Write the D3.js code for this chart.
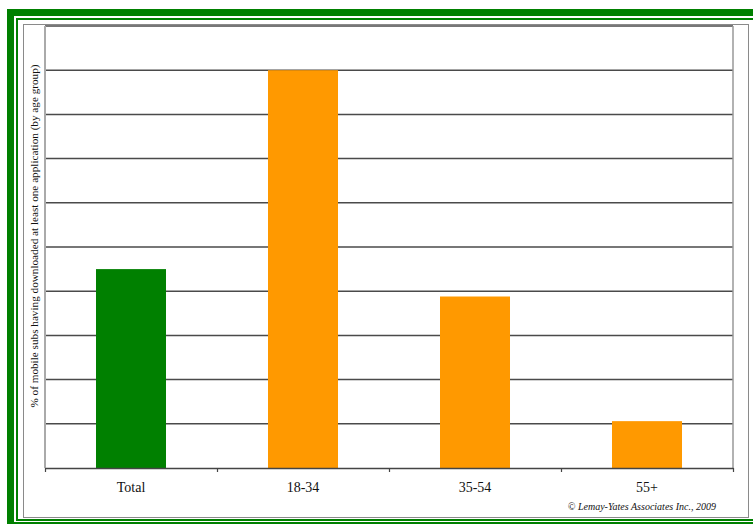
<!DOCTYPE html>
<html>
<head>
<meta charset="utf-8">
<script src="https://cdn.jsdelivr.net/npm/d3@7"></script>
<style>
  body { margin: 0; background: #fff; }
  svg { display: block; }
</style>
</head>
<body>
<div id="chart"></div>
<script>
var svgWidth = 753;
var svgHeight = 524;

// data (% of mobile subs, by age group)
var categories = ["Total", "18-34", "35-54", "55+"];
var values = [22.5, 45, 19.4, 5.3];
var barColors = ["#008000", "#ff9900", "#ff9900", "#ff9900"];
var gridTicks = [5, 10, 15, 20, 25, 30, 35, 40, 45, 50];

var plot = { left: 45, right: 733, top: 26, bottom: 468 };

var svg = d3.select("#chart")
  .append("svg")
  .attr("width", svgWidth)
  .attr("height", svgHeight);

svg.append("rect")
  .attr("width", svgWidth)
  .attr("height", svgHeight)
  .attr("fill", "#fff");

// green double frame
svg.append("rect")
  .attr("x", 10.5).attr("y", 12.5)
  .attr("width", 760).attr("height", 513)
  .attr("fill", "none")
  .attr("stroke", "#008000")
  .attr("stroke-width", 7);

svg.append("rect")
  .attr("x", 17).attr("y", 19)
  .attr("width", 750).attr("height", 501)
  .attr("fill", "none")
  .attr("stroke", "#008000")
  .attr("stroke-width", 2);

// chart area border
svg.append("rect")
  .attr("x", 23.5).attr("y", 24.5)
  .attr("width", 725).attr("height", 493)
  .attr("fill", "none")
  .attr("stroke", "#8a8a8a")
  .attr("stroke-width", 1);

var x = d3.scaleBand()
  .domain(categories)
  .range([plot.left, plot.right])
  .paddingInner(0.593)
  .paddingOuter(0.2965);

var y = d3.scaleLinear()
  .domain([0, 50])
  .range([plot.bottom, plot.top]);

// gridlines
svg.append("g")
  .selectAll("line")
  .data(gridTicks)
  .enter()
  .append("line")
  .attr("x1", plot.left)
  .attr("x2", plot.right)
  .attr("y1", d => y(d))
  .attr("y2", d => y(d))
  .attr("stroke", "#4a4a4a")
  .attr("stroke-width", 1.5);

// plot right edge
svg.append("line")
  .attr("x1", plot.right).attr("x2", plot.right)
  .attr("y1", plot.top).attr("y2", plot.bottom)
  .attr("stroke", "#999")
  .attr("stroke-width", 1.5);

// bars
svg.append("g")
  .selectAll("rect")
  .data(values)
  .enter()
  .append("rect")
  .attr("x", (d, i) => x(categories[i]))
  .attr("y", d => y(d))
  .attr("width", x.bandwidth())
  .attr("height", d => y(0) - y(d))
  .attr("fill", (d, i) => barColors[i]);

// left axis line
svg.append("line")
  .attr("x1", plot.left).attr("x2", plot.left)
  .attr("y1", plot.top).attr("y2", plot.bottom)
  .attr("stroke", "#aaa")
  .attr("stroke-width", 2);

// bottom axis: ticks on category boundaries
var xEdges = d3.scaleLinear()
  .domain([0, categories.length])
  .range([plot.left, plot.right]);

var xTicks = svg.append("g")
  .attr("transform", `translate(0, ${plot.bottom})`)
  .call(d3.axisBottom(xEdges)
    .tickValues(d3.range(categories.length + 1))
    .tickFormat("")
    .tickSize(4)
    .tickSizeOuter(0));
xTicks.select(".domain").attr("stroke", "#444").attr("stroke-width", 1.5);
xTicks.selectAll(".tick line").attr("stroke", "#444").attr("stroke-width", 1.2);

var xLabels = svg.append("g")
  .attr("transform", `translate(0, ${plot.bottom})`)
  .call(d3.axisBottom(x).tickSize(0).tickPadding(14));
xLabels.select(".domain").remove();
xLabels.selectAll("text")
  .attr("font-family", "Liberation Serif, Times New Roman, serif")
  .attr("font-size", 14)
  .attr("fill", "#111");

// y axis title
svg.append("text")
  .attr("transform", "translate(38, 236) rotate(-90)")
  .attr("text-anchor", "middle")
  .attr("font-family", "Liberation Serif, Times New Roman, serif")
  .attr("font-size", 11.2)
  .attr("fill", "#111")
  .text("% of mobile subs having downloaded at least one application (by age group)");

// credit
svg.append("text")
  .attr("x", 716)
  .attr("y", 510)
  .attr("text-anchor", "end")
  .attr("font-family", "Liberation Serif, Times New Roman, serif")
  .attr("font-style", "italic")
  .attr("font-size", 10)
  .attr("fill", "#111")
  .text("© Lemay-Yates Associates Inc., 2009");
</script>
</body>
</html>
